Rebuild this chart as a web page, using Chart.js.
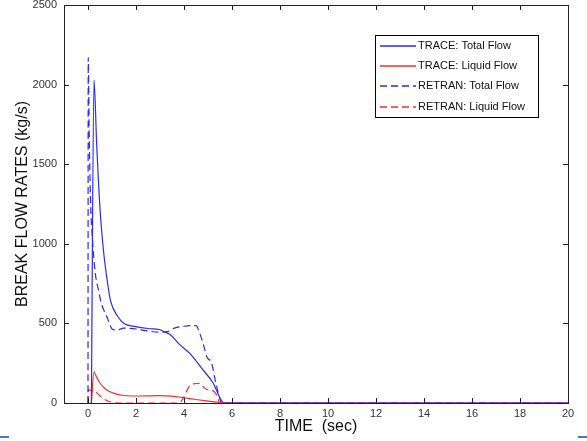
<!DOCTYPE html>
<html>
<head>
<meta charset="utf-8">
<script src="https://cdn.jsdelivr.net/npm/chart.js@4.4.1/dist/chart.umd.min.js"></script>
<style>
html,body{margin:0;padding:0;background:#fff;}
#wrap{position:relative;width:587px;height:441px;}
canvas{display:block;}
.mk{position:absolute;top:436px;height:2px;width:9px;background:#4a7ab8;}
</style>
</head>
<body>
<div id="wrap">
<canvas id="c" width="587" height="441"></canvas>
<div class="mk" style="left:0"></div>
<div class="mk" style="left:578px"></div>
</div>
<script>
// ---- Data ----
const xTicks = [0, 2, 4, 6, 8, 10, 12, 14, 16, 18, 20];
const yTicks = [0, 500, 1000, 1500, 2000, 2500];

const traceTotalX = [0.14, 0.25, 0.36, 0.5, 0.65, 0.8, 0.94, 1.22, 1.5, 2.0, 2.5, 3.0, 3.2, 3.42, 3.8, 4.25, 4.8, 5.22, 5.5, 5.67, 6.5, 20];
const traceTotalY = [0, 2030, 1630, 1220, 950, 770, 641, 548, 500, 480, 468, 460, 445, 430, 370, 310, 206, 124, 31, 0, 0, 0];

const traceLiqX = [0.14, 0.25, 0.35, 0.5, 0.78, 1.06, 1.5, 2.0, 3.0, 3.5, 4.0, 4.5, 5.0, 5.5, 5.7, 20];
const traceLiqY = [0, 196, 165, 124, 82, 62, 47, 44, 46, 43, 33, 22, 12, 3, 0, 0];

const retranTotalX = [0, 0.01, 0.05, 0.1, 0.2, 0.3, 0.45, 0.53, 0.64, 0.8, 0.9, 1.0, 1.2, 1.5, 2.0, 2.5, 3.0, 3.3, 3.6, 4.0, 4.3, 4.5, 4.65, 4.8, 4.95, 5.15, 5.3, 5.47, 5.56, 6.5, 20];
const retranTotalY = [0, 2170, 1700, 1300, 1000, 820, 700, 640, 590, 537, 495, 465, 458, 470, 465, 452, 445, 448, 470, 482, 486, 486, 440, 372, 290, 250, 145, 40, 0, 0, 0];

const retranLiqX = [0, 0.02, 0.1, 0.3, 0.5, 0.7, 0.9, 1.1, 1.5, 3.8, 3.97, 4.2, 4.45, 4.67, 4.85, 5.0, 5.15, 5.36, 5.5, 20];
const retranLiqY = [0, 85, 80, 72, 45, 22, 8, 2, 0, 0, 31, 100, 122, 124, 95, 82, 80, 52, 0, 0];

const seriesLabels = ['TRACE: Total Flow', 'TRACE: Liquid Flow', 'RETRAN: Total Flow', 'RETRAN: Liquid Flow'];

const pts = (xs, ys) => xs.map((x, i) => ({x: x, y: ys[i]}));

const BLUE = '#2a2aff', RED = '#ff2a2a';
const DASH = [7, 4];
const FONT = '"Liberation Sans", Arial, sans-serif';

const inwardTicks = {
  id: 'inwardTicks',
  afterDatasetsDraw(chart) {
    const {ctx, chartArea: a, scales: {x, y}} = chart;
    ctx.save();
    ctx.strokeStyle = '#222';
    ctx.lineWidth = 1;
    ctx.setLineDash([]);
    ctx.beginPath();
    x.ticks.forEach(t => {
      const px = Math.round(x.getPixelForValue(t.value)) + 0.5;
      ctx.moveTo(px, a.bottom); ctx.lineTo(px, a.bottom - 5);
      ctx.moveTo(px, a.top); ctx.lineTo(px, a.top + 5);
    });
    y.ticks.forEach(t => {
      const py = Math.round(y.getPixelForValue(t.value)) + 0.5;
      ctx.moveTo(a.left, py); ctx.lineTo(a.left + 5, py);
      ctx.moveTo(a.right, py); ctx.lineTo(a.right - 5, py);
    });
    ctx.stroke();
    ctx.strokeRect(Math.round(a.left) + 0.5, Math.round(a.top) + 0.5, Math.round(a.right - a.left), Math.round(a.bottom - a.top));
    ctx.restore();
  }
};

const boxLegend = {
  id: 'boxLegend',
  afterDraw(chart) {
    const {ctx} = chart;
    const bx = 375.5, by = 35.5, bw = 163, bh = 82;
    ctx.save();
    ctx.setLineDash([]);
    ctx.fillStyle = '#ffffff';
    ctx.fillRect(bx, by, bw, bh);
    ctx.strokeStyle = '#000000';
    ctx.lineWidth = 1;
    ctx.strokeRect(bx, by, bw, bh);
    ctx.restore();
    const rows = [46, 66, 86, 107];
    chart.data.datasets.forEach((ds, i) => {
      const yy = rows[i];
      ctx.save();
      ctx.beginPath();
      ctx.lineWidth = 1.5;
      ctx.strokeStyle = ds.borderColor;
      ctx.setLineDash(ds.borderDash ? ds.borderDash : []);
      ctx.moveTo(380, yy);
      ctx.lineTo(416, yy);
      ctx.stroke();
      ctx.restore();
      ctx.save();
      ctx.font = '11px ' + FONT;
      ctx.textBaseline = 'middle';
      ctx.textAlign = 'left';
      ctx.fillStyle = '#111111';
      ctx.fillText(ds.label, 418, yy);
      ctx.restore();
    });
  }
};

new Chart(document.getElementById('c'), {
  type: 'line',
  data: {
    datasets: [
      {label: seriesLabels[0], data: pts(traceTotalX, traceTotalY), borderColor: BLUE, borderWidth: 1.2, pointRadius: 0, cubicInterpolationMode: 'monotone'},
      {label: seriesLabels[1], data: pts(traceLiqX, traceLiqY), borderColor: RED, borderWidth: 1.2, pointRadius: 0, cubicInterpolationMode: 'monotone'},
      {label: seriesLabels[2], data: pts(retranTotalX, retranTotalY), borderColor: BLUE, borderWidth: 1.2, borderDash: DASH, pointRadius: 0, cubicInterpolationMode: 'monotone'},
      {label: seriesLabels[3], data: pts(retranLiqX, retranLiqY), borderColor: RED, borderWidth: 1.2, borderDash: DASH, pointRadius: 0, cubicInterpolationMode: 'monotone'}
    ]
  },
  options: {
    responsive: false,
    animation: false,
    devicePixelRatio: 1,
    layout: {padding: {left: 0, right: 19, top: 5, bottom: 0}},
    plugins: {legend: {display: false}, tooltip: {enabled: false}},
    scales: {
      x: {
        type: 'linear', min: -1, max: 20,
        afterBuildTicks: s => { s.ticks = xTicks.map(v => ({value: v})); },
        afterFit: s => { s.height = 38; s.paddingLeft = 0; s.paddingRight = 0; },
        grid: {display: false, drawTicks: false},
        border: {display: false},
        ticks: {padding: 4, color: '#333', font: {family: FONT, size: 11}, maxRotation: 0, callback: v => String(v)},
        title: {display: true, text: 'TIME  (sec)', color: '#111', font: {family: FONT, size: 16}, padding: {top: 0, bottom: 5}}
      },
      y: {
        type: 'linear', min: 0, max: 2500,
        afterBuildTicks: s => { s.ticks = yTicks.map(v => ({value: v})); },
        afterFit: s => { s.width = 64; s.paddingTop = 0; s.paddingBottom = 0; },
        grid: {display: false, drawTicks: false},
        border: {display: false},
        ticks: {padding: 7, color: '#333', font: {family: FONT, size: 11}, callback: v => String(v)},
        title: {display: true, text: 'BREAK FLOW RATES (kg/s)', color: '#111', font: {family: FONT, size: 16}, padding: {top: 13, bottom: 0}}
      }
    }
  },
  plugins: [inwardTicks, boxLegend]
});
</script>
</body>
</html>
